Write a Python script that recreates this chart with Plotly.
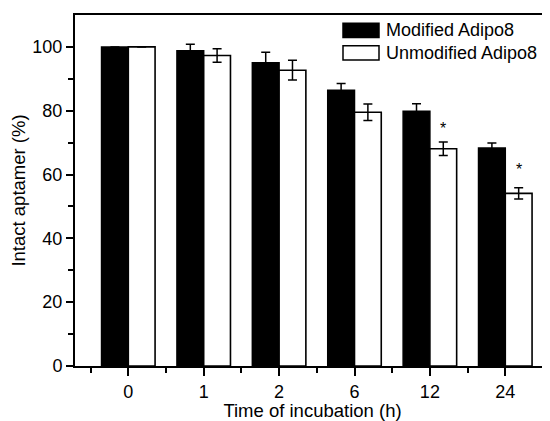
import plotly.graph_objects as go

# ---- data ----
time_labels = ["0", "1", "2", "6", "12", "24"]
modified = [100, 98.8, 95.0, 86.4, 79.8, 68.3]
modified_err = [0, 2.0, 3.3, 2.1, 2.4, 1.6]
unmodified = [100, 97.3, 92.7, 79.5, 68.1, 54.1]
unmodified_err = [0, 2.1, 3.1, 2.6, 2.1, 1.8]
signif_index = [4, 5]
signif_y = [74.5, 61.5]

positions = list(range(len(time_labels)))

# page has an 8px body margin; size the figure to fill the 550x421 window
OFF = 8
W, H = 550 - OFF, 421 - OFF
L, R, T, B = 75 - OFF, 0, 15 - OFF, 55
pw, ph = W - L - R, H - T - B


def px(x):
    # window pixel x -> paper coordinate
    return (x - OFF - L) / pw


def py(y):
    # window pixel y -> paper coordinate
    return (H - B - (y - OFF)) / ph


fig = go.Figure()
fig.add_trace(go.Bar(
    x=positions, y=modified, name="Modified Adipo8",
    marker=dict(color="black", line=dict(color="black", width=1.5)),
    error_y=dict(type="data", array=modified_err, color="black", thickness=1.5, width=4.5),
    showlegend=False,
))
fig.add_trace(go.Bar(
    x=positions, y=unmodified, name="Unmodified Adipo8",
    marker=dict(color="white", line=dict(color="black", width=1.6)),
    error_y=dict(type="data", array=unmodified_err, color="black", thickness=1.5, width=4.5),
    showlegend=False,
))

# significance asterisks
for i, yv in zip(signif_index, signif_y):
    fig.add_annotation(x=positions[i] + 0.178, y=yv, text="*", showarrow=False,
                       font=dict(size=16, color="black", family="Liberation Sans, Arial"),
                       xref="x", yref="y", yanchor="middle")

# custom legend
legend_items = [("Modified Adipo8", "black"), ("Unmodified Adipo8", "white")]
for k, (name, fill) in enumerate(legend_items):
    y0 = 23.3 + k * 22.4
    fig.add_shape(type="rect", xref="paper", yref="paper",
                  x0=px(343), x1=px(379), y0=py(y0), y1=py(y0 + 14.3),
                  fillcolor=fill, line=dict(color="black", width=1.5))
    fig.add_annotation(xref="paper", yref="paper", x=px(384), y=py(y0 + 7.2),
                       text=name, showarrow=False, xanchor="left", yanchor="middle",
                       font=dict(size=18, color="black", family="Liberation Sans, Arial"))

fig.update_layout(
    width=W, height=H,
    margin=dict(l=L, r=R, t=T, b=B, pad=0),
    plot_bgcolor="white", paper_bgcolor="white",
    barmode="group", bargap=0.29, bargroupgap=0,
    font=dict(family="Liberation Sans, Arial", color="black", size=18),
)
fig.update_xaxes(
    range=[-0.707, 5.593], tickmode="array", tickvals=positions, ticktext=time_labels,
    ticks="outside", ticklen=8, tickwidth=1.5, tickcolor="black",
    showline=True, linecolor="black", linewidth=2, mirror=True,
    showgrid=False, zeroline=False,
    minor=dict(tickmode="array", tickvals=[p - 0.5 for p in positions] + [positions[-1] + 0.5],
               ticks="outside", ticklen=5, tickwidth=1.5, tickcolor="black", showgrid=False),
    title=dict(text="Time of incubation (h)", font=dict(size=18.5), standoff=3),
    tickfont=dict(size=18),
)
fig.update_yaxes(
    range=[0, 110], tickmode="array", tickvals=[0, 20, 40, 60, 80, 100],
    ticks="outside", ticklen=7, tickwidth=1.5, tickcolor="black",
    showline=True, linecolor="black", linewidth=2,
    showgrid=False, zeroline=False,
    minor=dict(tickmode="array", tickvals=[10, 30, 50, 70, 90],
               ticks="outside", ticklen=5, tickwidth=1.5, tickcolor="black", showgrid=False),
    title=dict(text="Intact aptamer (%)", font=dict(size=18.5), standoff=3),
    tickfont=dict(size=18),
)

fig.write_html("out.html")
